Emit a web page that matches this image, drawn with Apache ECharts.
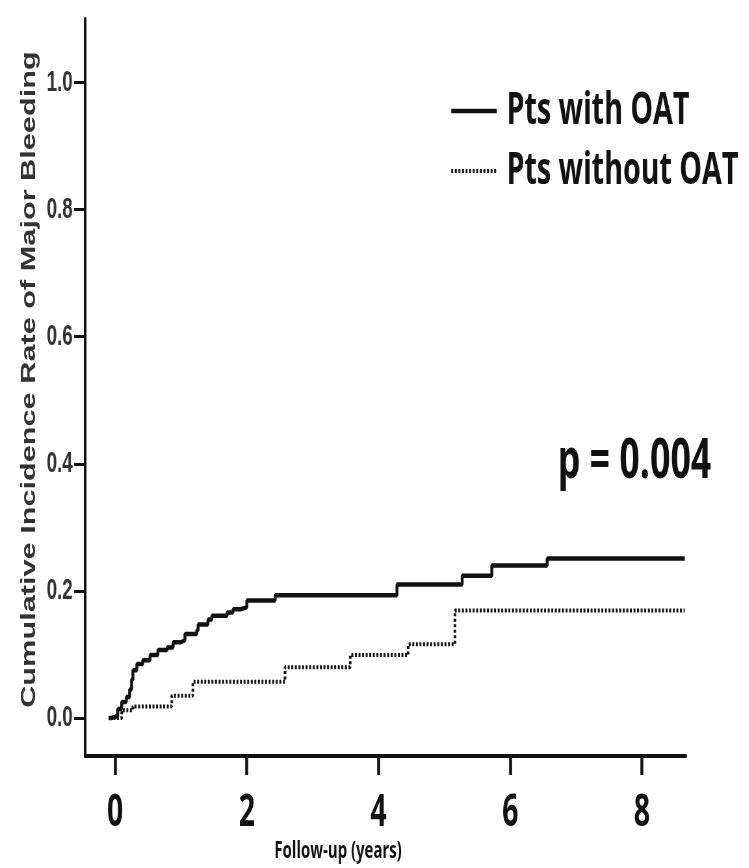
<!DOCTYPE html>
<html>
<head>
<meta charset="utf-8">
<title>Cumulative incidence of major bleeding</title>
<script src="https://cdn.jsdelivr.net/npm/echarts@6/dist/echarts.min.js"></script>
<style>
  html, body { margin: 0; padding: 0; background: #fff; overflow: hidden; }
  /* the figure is laid out wide and then compressed horizontally */
  #chart { width: 1152px; height: 868px; transform: scaleX(0.65); transform-origin: 0 0; }
</style>
</head>
<body>
<div id="chart"></div>
<script>
// Follow-up time (years) at each step and cumulative incidence after the step
const withOatTime = [-0.10, -0.06, 0.04, 0.10, 0.17, 0.22, 0.25, 0.27, 0.33, 0.42, 0.53, 0.65, 0.79, 0.88, 0.99,
  1.06, 1.24, 1.26, 1.41, 1.47, 1.70, 1.79, 1.90, 2.00, 2.43, 4.28, 5.27, 5.72, 6.56, 8.65];
const withOatRate = [0.000, 0.003, 0.014, 0.025, 0.033, 0.045, 0.060, 0.075, 0.085, 0.091, 0.099, 0.107, 0.111, 0.119, 0.122,
  0.132, 0.138, 0.147, 0.155, 0.161, 0.166, 0.171, 0.174, 0.185, 0.193, 0.210, 0.224, 0.240, 0.251, 0.251];

const withoutOatTime = [-0.08, 0.10, 0.27, 0.86, 1.18, 2.58, 3.57, 4.45, 5.16, 8.65];
const withoutOatRate = [0.000, 0.012, 0.018, 0.035, 0.057, 0.080, 0.099, 0.116, 0.169, 0.169];

const seriesNames = ['Pts with OAT', 'Pts without OAT'];
const xTicks = [0, 2, 4, 6, 8];
const yTicks = [0, 0.2, 0.4, 0.6, 0.8, 1.0];
const pValueText = 'p = 0.004';

const pairs = (xs, ys) => xs.map((x, i) => [x, ys[i]]);

const chart = echarts.init(document.getElementById('chart'), null, { renderer: 'canvas' });

chart.setOption({
  animation: false,
  backgroundColor: '#ffffff',
  grid: { left: 131, right: 97, top: 19, bottom: 109 },
  legend: {
    data: seriesNames,
    orient: 'vertical',
    left: 687,
    top: 84,
    itemWidth: 70,
    itemHeight: 14,
    itemGap: 16,
    itemStyle: { opacity: 0 },
    lineStyle: { width: 'inherit' },
    textStyle: {
      fontFamily: 'Open Sans',
      fontWeight: 'bold',
      fontSize: 44,
      lineHeight: 44,
      color: '#111',
      padding: [0, 0, 0, 10]
    }
  },
  xAxis: {
    type: 'value',
    min: -0.455,
    max: 8.665,
    splitLine: { show: false },
    axisLine: { onZero: false, lineStyle: { color: '#111', width: 4 } },
    axisTick: { show: true, length: 19, customValues: xTicks, lineStyle: { color: '#111', width: 4.5 } },
    axisLabel: {
      customValues: xTicks,
      margin: 35,
      fontFamily: 'Open Sans',
      fontWeight: 'bold',
      fontSize: 44,
      color: '#111'
    },
    name: 'Follow-up (years)',
    nameLocation: 'middle',
    nameGap: 80,
    nameTextStyle: {
      fontFamily: 'Open Sans',
      fontWeight: 'bold',
      fontSize: 23,
      color: '#111',
      padding: [0, 146, 0, 0]
    }
  },
  yAxis: {
    type: 'value',
    min: -0.06,
    max: 1.1,
    splitLine: { show: false },
    axisLine: { onZero: false, lineStyle: { color: '#111', width: 4 } },
    axisTick: { show: true, length: 17, customValues: yTicks, lineStyle: { color: '#111', width: 3 } },
    axisLabel: {
      customValues: yTicks,
      formatter: v => v.toFixed(1),
      margin: 19,
      fontFamily: 'Liberation Sans',
      fontWeight: 'bold',
      fontSize: 29,
      color: '#333'
    },
    name: 'Cumulative Incidence Rate of Major Bleeding',
    nameLocation: 'middle',
    nameGap: 62,
    nameTextStyle: {
      fontFamily: 'Liberation Sans',
      fontWeight: 'bold',
      fontSize: 30.7,
      color: '#333',
      padding: [0, 0, 0, 16]
    }
  },
  graphic: [{
    type: 'text',
    left: 858,
    top: 435,
    style: {
      text: pValueText,
      fontFamily: 'Open Sans',
      fontWeight: 'bold',
      fontSize: 55,
      fill: '#111'
    }
  }],
  series: [
    {
      name: seriesNames[0],
      type: 'line',
      step: 'end',
      symbol: 'none',
      data: pairs(withOatTime, withOatRate),
      lineStyle: { color: '#111', width: 4.5, type: 'solid' },
      itemStyle: { color: '#111' }
    },
    {
      name: seriesNames[1],
      type: 'line',
      step: 'end',
      symbol: 'none',
      data: pairs(withoutOatTime, withoutOatRate),
      lineStyle: { color: '#111', width: 4, type: [3, 2.5] },
      itemStyle: { color: '#111' }
    }
  ]
});
</script>
</body>
</html>
